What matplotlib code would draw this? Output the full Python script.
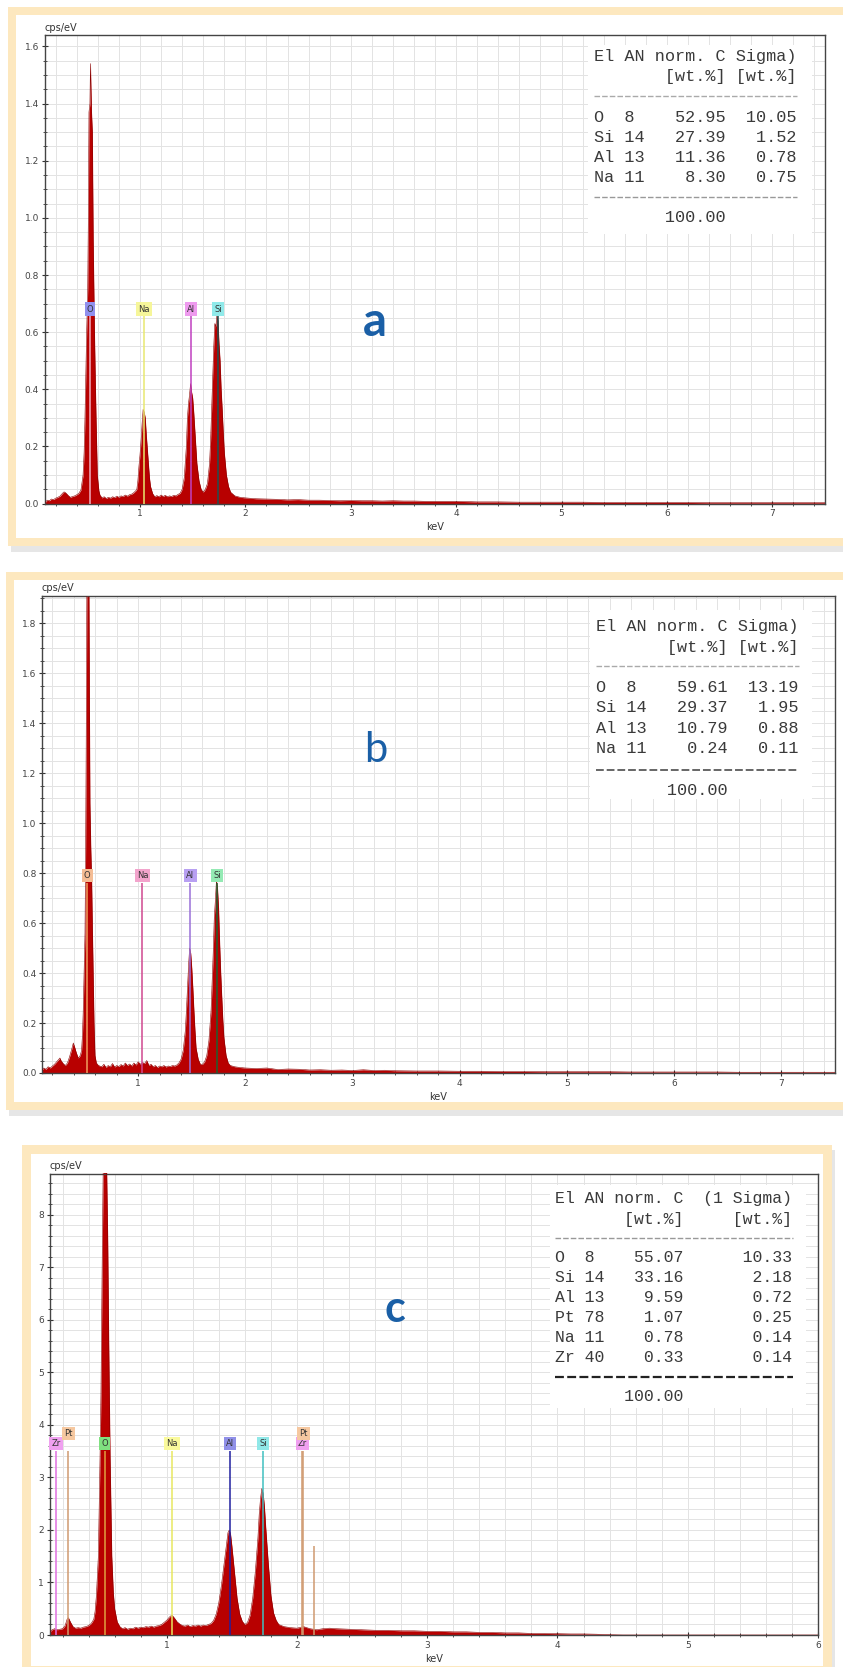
import numpy as np
import matplotlib.pyplot as plt
from matplotlib.patches import Rectangle
from matplotlib.lines import Line2D
from matplotlib.ticker import MultipleLocator

# ---- spectrum a ----
energy_a = [0.10, 0.12, 0.14, 0.16, 0.18, 0.20, 0.22, 0.24, 0.26, 0.27, 0.28, 0.29, 0.30, 0.32, 0.34,
            0.36, 0.38, 0.40, 0.42, 0.44, 0.46, 0.47, 0.478, 0.486, 0.494, 0.504, 0.51, 0.516, 0.525, 0.53,
            0.535, 0.54, 0.548, 0.556, 0.562, 0.568, 0.575, 0.583, 0.595, 0.61, 0.62, 0.64, 0.66, 0.68, 0.70,
            0.72, 0.74, 0.76, 0.78, 0.80, 0.82, 0.84, 0.86, 0.88, 0.90, 0.92, 0.94, 0.96, 0.97, 0.98,
            0.99, 1.00, 1.01, 1.02, 1.03, 1.04, 1.05, 1.06, 1.07, 1.08, 1.09, 1.10, 1.12, 1.14, 1.16,
            1.18, 1.20, 1.22, 1.24, 1.26, 1.28, 1.30, 1.32, 1.34, 1.36, 1.38, 1.40, 1.42, 1.44, 1.45,
            1.46, 1.47, 1.48, 1.49, 1.50, 1.51, 1.52, 1.53, 1.54, 1.56, 1.58, 1.60, 1.62, 1.64, 1.66,
            1.67, 1.68, 1.69, 1.70, 1.71, 1.72, 1.73, 1.74, 1.75, 1.76, 1.77, 1.78, 1.79, 1.80, 1.82,
            1.84, 1.86, 1.90, 1.95, 2.00, 2.1, 2.2, 2.3, 2.4, 2.5, 2.6, 2.7, 2.8, 2.9, 3.0, 3.1, 3.2, 3.3,
            3.4, 3.5, 3.6, 3.7, 3.8, 3.9, 4.0, 4.2, 4.4, 4.6, 4.8, 5.0, 5.2, 5.4, 5.6, 5.8, 6.0, 6.2,
            6.4, 6.6, 6.8, 7.0, 7.2, 7.4, 7.5]
cps_a = [0.004, 0.012, 0.010, 0.016, 0.014, 0.019, 0.022, 0.026, 0.034, 0.038, 0.041, 0.039, 0.036, 0.028, 0.022,
         0.025, 0.027, 0.031, 0.036, 0.048, 0.10, 0.18, 0.30, 0.45, 0.60, 0.75, 1.00, 1.37, 1.40, 1.54,
         1.45, 1.37, 1.30, 0.92, 0.76, 0.60, 0.45, 0.30, 0.10, 0.045, 0.030, 0.020, 0.024, 0.018, 0.022,
         0.019, 0.024, 0.021, 0.026, 0.022, 0.027, 0.025, 0.030, 0.026, 0.031, 0.033, 0.038, 0.045, 0.05, 0.08,
         0.13, 0.17, 0.22, 0.28, 0.33, 0.32, 0.30, 0.24, 0.19, 0.14, 0.09, 0.06, 0.035, 0.024, 0.028,
         0.024, 0.030, 0.025, 0.029, 0.024, 0.027, 0.025, 0.029, 0.027, 0.032, 0.036, 0.05, 0.09, 0.20, 0.30,
         0.35, 0.38, 0.42, 0.39, 0.37, 0.32, 0.26, 0.20, 0.14, 0.08, 0.05, 0.04, 0.05, 0.07, 0.14,
         0.22, 0.33, 0.45, 0.55, 0.63, 0.62, 0.66, 0.64, 0.56, 0.50, 0.40, 0.33, 0.25, 0.18, 0.10,
         0.06, 0.04, 0.027, 0.022, 0.020, 0.017, 0.016, 0.015, 0.013, 0.014, 0.012, 0.012, 0.011, 0.010, 0.011, 0.010, 0.010, 0.009,
         0.010, 0.009, 0.009, 0.008, 0.008, 0.008, 0.008, 0.006, 0.006, 0.005, 0.005, 0.005, 0.005, 0.004, 0.004, 0.004, 0.004, 0.004,
         0.003, 0.003, 0.003, 0.003, 0.003, 0.003, 0.003]

# ---- spectrum b ----
energy_b = [0.10, 0.12, 0.14, 0.16, 0.18, 0.20, 0.22, 0.24, 0.26, 0.27, 0.28, 0.30, 0.32, 0.34, 0.36,
            0.38, 0.395, 0.41, 0.42, 0.44, 0.46, 0.472, 0.48, 0.487, 0.495, 0.504, 0.51, 0.515, 0.52, 0.525,
            0.53, 0.535, 0.54, 0.545, 0.55, 0.558, 0.566, 0.572, 0.58, 0.588, 0.597, 0.61, 0.63, 0.66, 0.68,
            0.70, 0.72, 0.74, 0.76, 0.78, 0.80, 0.82, 0.84, 0.86, 0.88, 0.90, 0.92, 0.94, 0.96, 0.98,
            1.00, 1.02, 1.04, 1.06, 1.08, 1.10, 1.12, 1.14, 1.16, 1.18, 1.20, 1.22, 1.24, 1.26, 1.28,
            1.30, 1.32, 1.34, 1.36, 1.38, 1.40, 1.42, 1.44, 1.45, 1.46, 1.47, 1.48, 1.49, 1.50, 1.51,
            1.52, 1.53, 1.54, 1.56, 1.58, 1.60, 1.62, 1.64, 1.66, 1.68, 1.69, 1.70, 1.71, 1.72, 1.73,
            1.74, 1.75, 1.76, 1.77, 1.78, 1.79, 1.80, 1.82, 1.84, 1.86, 1.90, 1.95, 2.00, 2.1, 2.2,
            2.3, 2.4, 2.5, 2.6, 2.7, 2.8, 2.9, 3.0, 3.1, 3.2, 3.3, 3.4, 3.6, 3.8, 4.0, 4.2, 4.4, 4.6,
            4.8, 5.0, 5.2, 5.4, 5.6, 5.8, 6.0, 6.2, 6.4, 6.6, 6.8, 7.0, 7.2, 7.5]
cps_b = [0.010, 0.020, 0.015, 0.025, 0.020, 0.028, 0.035, 0.045, 0.055, 0.060, 0.050, 0.038, 0.030, 0.040, 0.065,
         0.095, 0.12, 0.10, 0.085, 0.06, 0.07, 0.09, 0.15, 0.24, 0.40, 0.56, 0.90, 1.30, 1.80, 2.30,
         2.50, 2.40, 2.00, 1.50, 1.08, 0.90, 0.77, 0.60, 0.40, 0.20, 0.07, 0.040, 0.030, 0.025, 0.035,
         0.022, 0.030, 0.025, 0.038, 0.024, 0.030, 0.026, 0.034, 0.028, 0.040, 0.030, 0.036, 0.028, 0.040, 0.032,
         0.045, 0.035, 0.042, 0.038, 0.050, 0.030, 0.035, 0.025, 0.030, 0.022, 0.028, 0.025, 0.030, 0.024, 0.028,
         0.026, 0.030, 0.028, 0.032, 0.040, 0.055, 0.09, 0.17, 0.25, 0.34, 0.43, 0.50, 0.48, 0.42, 0.34,
         0.25, 0.17, 0.10, 0.055, 0.035, 0.035, 0.045, 0.07, 0.13, 0.25, 0.36, 0.48, 0.62, 0.69, 0.77,
         0.74, 0.66, 0.52, 0.40, 0.30, 0.21, 0.14, 0.07, 0.04, 0.03, 0.025, 0.022, 0.020, 0.018, 0.020,
         0.014, 0.016, 0.015, 0.012, 0.013, 0.011, 0.012, 0.010, 0.013, 0.010, 0.011, 0.009, 0.008, 0.008, 0.007, 0.007, 0.006, 0.006,
         0.005, 0.005, 0.005, 0.005, 0.004, 0.004, 0.004, 0.004, 0.004, 0.003, 0.003, 0.003, 0.003, 0.003]

# ---- spectrum c ----
energy_c = [0.10, 0.12, 0.14, 0.16, 0.18, 0.20, 0.22, 0.235, 0.245, 0.26, 0.28, 0.30, 0.32, 0.34, 0.36,
            0.38, 0.40, 0.42, 0.44, 0.45, 0.46, 0.475, 0.488, 0.495, 0.506, 0.515, 0.525, 0.535, 0.547, 0.555,
            0.565, 0.578, 0.59, 0.60, 0.62, 0.64, 0.66, 0.68, 0.70, 0.72, 0.74, 0.76, 0.78, 0.80, 0.82,
            0.84, 0.86, 0.88, 0.90, 0.92, 0.94, 0.96, 0.98, 1.00, 1.02, 1.04, 1.06, 1.08, 1.10, 1.12,
            1.14, 1.16, 1.18, 1.20, 1.22, 1.24, 1.26, 1.28, 1.30, 1.32, 1.34, 1.36, 1.38, 1.40, 1.42,
            1.44, 1.46, 1.47, 1.48, 1.49, 1.50, 1.52, 1.54, 1.56, 1.58, 1.60, 1.62, 1.64, 1.66, 1.68,
            1.70, 1.71, 1.72, 1.73, 1.74, 1.75, 1.76, 1.78, 1.80, 1.82, 1.84, 1.86, 1.90, 1.95, 2.00,
            2.05, 2.10, 2.15, 2.20, 2.25, 2.30, 2.40, 2.50, 2.60, 2.70, 2.80, 2.90, 3.00, 3.10, 3.20,
            3.30, 3.40, 3.50, 3.60, 3.70, 3.80, 3.90, 4.00, 4.10, 4.20, 4.30, 4.40, 4.50, 6.00]
cps_c = [0.05, 0.10, 0.12, 0.10, 0.11, 0.12, 0.18, 0.30, 0.33, 0.25, 0.16, 0.13, 0.14, 0.13, 0.15,
         0.16, 0.18, 0.22, 0.30, 0.45, 0.75, 1.50, 3.40, 4.60, 7.50, 9.50, 10.0, 9.50, 7.50, 5.50,
         3.40, 1.50, 0.80, 0.50, 0.25, 0.16, 0.12, 0.14, 0.11, 0.13, 0.12, 0.15, 0.13, 0.15, 0.14,
         0.16, 0.15, 0.17, 0.15, 0.17, 0.18, 0.20, 0.24, 0.28, 0.34, 0.38, 0.32, 0.25, 0.21, 0.18,
         0.17, 0.19, 0.16, 0.18, 0.17, 0.19, 0.17, 0.19, 0.18, 0.20, 0.22, 0.28, 0.40, 0.62, 0.95,
         1.35, 1.75, 1.95, 2.00, 1.92, 1.70, 1.20, 0.70, 0.40, 0.26, 0.20, 0.24, 0.38, 0.70, 1.20,
         1.85, 2.30, 2.60, 2.79, 2.70, 2.45, 2.05, 1.35, 0.75, 0.42, 0.28, 0.20, 0.16, 0.14, 0.13,
         0.16, 0.12, 0.10, 0.12, 0.13, 0.12, 0.11, 0.10, 0.09, 0.09, 0.08, 0.08, 0.07, 0.07, 0.06,
         0.06, 0.05, 0.05, 0.04, 0.04, 0.03, 0.03, 0.025, 0.02, 0.02, 0.015, 0.005, 0.0, 0.0]

# element markers: name, keV, box colour, line colour
markers_a = [("O", 0.525, "#9090ee", "#f0b0c0"), ("Na", 1.040, "#f6f69a", "#e8e870"),
             ("Al", 1.487, "#ee9aee", "#c040c0"), ("Si", 1.739, "#90eaea", "#205050")]
markers_b = [("O", 0.525, "#f4bc94", "#f0a060"), ("Na", 1.040, "#f2a4cc", "#d04890"),
             ("Al", 1.487, "#b8a0f2", "#9a70d8"), ("Si", 1.739, "#94eab4", "#206030")]
markers_c = [("Zr", 0.151, "#f0a0f0", "#e070e0"), ("O", 0.525, "#80e080", "#e0a040"),
             ("Na", 1.041, "#fafa9c", "#e8e860"), ("Al", 1.486, "#9090e8", "#2020a0"),
             ("Si", 1.740, "#90e8e8", "#40c0c0"), ("Zr", 2.042, "#f0a0f0", "#d09a70")]
markers_c_top = [("Pt", 0.245, "#f6c8a0", "#d09a70"), ("Pt", 2.048, "#f6c8a0", "#d09a70")]

# quantification tables
els_a = ["O", "Si", "Al", "Na"]
an_a = [8, 14, 13, 11]
wt_a = [52.95, 27.39, 11.36, 8.30]
sig_a = [10.05, 1.52, 0.78, 0.75]
total_a = 100.00

els_b = ["O", "Si", "Al", "Na"]
an_b = [8, 14, 13, 11]
wt_b = [59.61, 29.37, 10.79, 0.24]
sig_b = [13.19, 1.95, 0.88, 0.11]
total_b = 100.00

els_c = ["O", "Si", "Al", "Pt", "Na", "Zr"]
an_c = [8, 14, 13, 78, 11, 40]
wt_c = [55.07, 33.16, 9.59, 1.07, 0.78, 0.33]
sig_c = [10.33, 2.18, 0.72, 0.25, 0.14, 0.14]
total_c = 100.00

W, H = 843, 1667
fig = plt.figure(figsize=(W / 100, H / 100), dpi=100)
fig.patch.set_facecolor("white")


def fx(x):
    return x / W


def fy(y):
    return 1 - y / H


def rect(x0, y0, x1, y1, color, z):
    fig.add_artist(Rectangle((fx(x0), fy(y1)), (x1 - x0) / W, (y1 - y0) / H,
                             transform=fig.transFigure, color=color, zorder=z, lw=0))


def frame(x0, y0, x1, y1, b):
    rect(x0 + 3, y0 + 5, x1 + 3, y1 + 6, "#e6e6e6", -4)
    rect(x0, y0, x1, y1, "#fde8bf", -3)
    rect(x0 + b, y0 + b, x1 - b, y1 - b, "white", -2)


def hline(x0, x1, y, color, lw, dashes):
    fig.add_artist(Line2D([fx(x0), fx(x1)], [fy(y), fy(y)], transform=fig.transFigure,
                          color=color, lw=lw, dashes=dashes, zorder=6))


def spectrum(box, energy, cps, xlim, ylim, ymaj, ymin, yfmt, markers, label_y, line_top):
    left, right, top, bottom = box
    ax = fig.add_axes([fx(left), fy(bottom), (right - left) / W, (bottom - top) / H])
    ax.set_xlim(*xlim)
    ax.set_ylim(*ylim)
    ax.set_axisbelow(True)
    ax.xaxis.set_major_locator(MultipleLocator(1))
    ax.xaxis.set_minor_locator(MultipleLocator(0.2))
    ax.yaxis.set_major_locator(MultipleLocator(ymaj))
    ax.yaxis.set_minor_locator(MultipleLocator(ymin))
    ax.yaxis.set_major_formatter(yfmt)
    ax.grid(which="both", color="#e3e3e3", lw=0.7)
    ax.tick_params(which="both", direction="inout", colors="#333333", labelsize=6.5,
                   labelcolor="#444444", pad=2)
    ax.tick_params(which="major", length=4)
    ax.tick_params(which="minor", length=3)
    for s in ax.spines.values():
        s.set_color("#444444")
        s.set_linewidth(1.0)
    ax.fill_between(energy, cps, 0, color="#b80000", lw=0, zorder=2)
    ax.plot(energy, cps, color="#8a0000", lw=0.4, zorder=3)
    for name, e, bc, lc in markers:
        ax.vlines(e, 0, line_top, color=lc, lw=1.1, zorder=4)
        ax.text(e, label_y, name, ha="center", va="center", fontsize=6, color="#333333", zorder=5,
                bbox=dict(boxstyle="square,pad=0.25", fc=bc, ec="none"))
    ax.text(0.0, 1.005, "cps/eV", transform=ax.transAxes, fontsize=7, color="#333333",
            ha="left", va="bottom")
    ax.set_xlabel("keV", fontsize=7, color="#333333", labelpad=3)
    return ax


def table(x0, ys, box, rows_fmt, fs, color, dash_y, dash_styles):
    bx0, by0, bx1, by1 = box
    rect(bx0, by0, bx1, by1, "white", 5)
    for y, s in zip(ys, rows_fmt):
        fig.text(fx(x0), fy(y), s, family="Liberation Mono", fontsize=fs, color=color,
                 ha="left", va="center", zorder=7)
    for y, (col, lw) in zip(dash_y, dash_styles):
        hline(x0, x0 + len(rows_fmt[0]) * fs * 100 / 72 * 0.6, y, col, lw, (4, 1.5))


# frames
frame(8, 7, 851, 546, 8)
frame(6, 572, 851, 1110, 8)
frame(22, 1145, 832, 1675, 9)

# panel a
ax_a = spectrum((44.6, 825, 35, 503.6), energy_a, cps_a, (0.095, 7.5), (0, 1.64), 0.2, 0.05,
                "{x:.1f}", markers_a, 0.681, 0.655)
# panel b
ax_b = spectrum((42, 835, 595.7, 1073), energy_b, cps_b, (0.103, 7.5), (0, 1.91), 0.2, 0.05,
                "{x:.1f}", markers_b, 0.79, 0.76)
# panel c
ax_c = spectrum((49.5, 818, 1173.5, 1635), energy_c, cps_c, (0.1, 6.0), (0, 8.79), 1, 0.2,
                "{x:.0f}", markers_c, 3.64, 3.5)
for name, e, bc, lc in markers_c_top:
    ax_c.vlines(e, 0, 3.5, color=lc, lw=1.1, zorder=4)
    ax_c.text(e, 3.83, name, ha="center", va="center", fontsize=6, color="#333333", zorder=5,
              bbox=dict(boxstyle="square,pad=0.25", fc=bc, ec="none"))
ax_c.vlines(2.127, 0, 1.7, color="#d09a70", lw=1.1, zorder=4)

# tables
rows_a = ["El AN norm. C Sigma)", "       [wt.%] [wt.%]"]
rows_a += [f"{e:<2} {n:<2}{w:8.2f}{s:7.2f}" for e, n, w, s in zip(els_a, an_a, wt_a, sig_a)]
rows_a += [f"{total_a:13.2f}"]
table(594, [57, 77, 117, 137, 157.5, 178, 218], (588, 45, 812, 234), rows_a, 12.2, "#3a3a3a",
      [96, 197.5], [("#aaaaaa", 1.0), ("#999999", 1.0)])

rows_b = ["El AN norm. C Sigma)", "       [wt.%] [wt.%]"]
rows_b += [f"{e:<2} {n:<2}{w:8.2f}{s:7.2f}" for e, n, w, s in zip(els_b, an_b, wt_b, sig_b)]
rows_b += [f"{total_b:13.2f}"]
table(596, [626, 647, 687, 707, 728, 748, 790], (590, 610, 812, 799), rows_b, 12.2, "#3a3a3a",
      [666, 770], [("#aaaaaa", 1.0), ("#666666", 1.4)])

rows_c = ["El AN norm. C  (1 Sigma)", "       [wt.%]     [wt.%]"]
rows_c += [f"{e:<2} {n:<2}{w:8.2f}{s:11.2f}" for e, n, w, s in zip(els_c, an_c, wt_c, sig_c)]
rows_c += [f"{total_c:13.2f}"]
table(555, [1198.5, 1219, 1257.7, 1278, 1297.8, 1317.7, 1338, 1357, 1396], (550, 1185, 806, 1408),
      rows_c, 11.9, "#3a3a3a", [1238, 1376.6], [("#999999", 1.0), ("#222222", 1.6)])

# panel letters
fig.text(fx(375), fy(335.7), "a", family="Lato", fontweight="bold", fontsize=34, color="#1a5fa6",
         ha="center", va="baseline")
fig.text(fx(376), fy(761.8), "b", family="Lato", fontsize=30, color="#1a5fa6",
         ha="center", va="baseline")
fig.text(fx(395), fy(1321.8), "c", family="Lato", fontweight="bold", fontsize=31, color="#1a5fa6",
         ha="center", va="baseline")

fig.savefig("out.png", dpi=100)
